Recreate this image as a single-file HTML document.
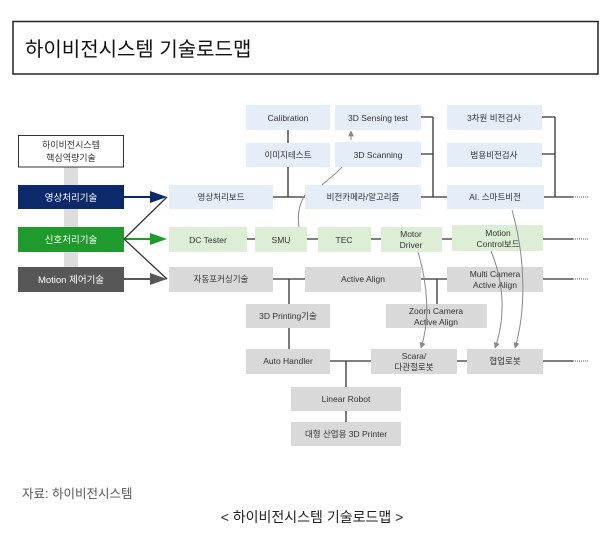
<!DOCTYPE html>
<html><head><meta charset="utf-8"><style>
html,body{margin:0;padding:0;background:#fff;}
svg{display:block;}
text{font-family:"Liberation Sans","Noto Sans CJK KR",sans-serif;}
.b{fill:#e5edf9}.g{fill:#dcefd6}.r{fill:#d9d9d9}
.t{font-size:8.5px;fill:#333;text-anchor:middle;}
.l{stroke:#333;stroke-width:1.3;fill:none}
.c{stroke:#888;stroke-width:1;fill:none}
</style></head><body>
<svg width="610" height="539" viewBox="0 0 610 539">
<defs><marker id="ah" viewBox="0 0 10 10" refX="9" refY="5" markerWidth="6" markerHeight="6" orient="auto"><path d="M0,0L10,5L0,10z" fill="#888"/></marker></defs>
<rect x="13" y="21.5" width="585" height="52.5" fill="#fff" stroke="#222" stroke-width="1.5"/>
<text x="25" y="56" style="font-size:20px;fill:#111">하이비전시스템 기술로드맵</text>

<!-- left column -->
<rect x="64" y="167" width="14" height="100" fill="#ddd"/>
<rect x="18.5" y="135.5" width="105" height="31.5" fill="#fff" stroke="#333" stroke-width="1"/>
<text class="t" x="71" y="148" style="font-size:9px">하이비전시스템</text>
<text class="t" x="71" y="161" style="font-size:9px">핵심역량기술</text>
<rect x="18" y="185" width="106" height="24" fill="#0c2a6b"/>
<text class="t" x="71" y="201" style="fill:#fff;font-size:9.5px">영상처리기술</text>
<rect x="18" y="227" width="106" height="25" fill="#1f9a2c"/>
<text class="t" x="71" y="243" style="fill:#fff;font-size:9.5px">신호처리기술</text>
<rect x="18" y="267" width="106" height="25" fill="#575757"/>
<text class="t" x="71" y="283" style="fill:#fff;font-size:9.5px">Motion 제어기술</text>

<!-- arrows -->
<line x1="124" y1="197" x2="152" y2="197" stroke="#0c2a6b" stroke-width="2"/><path d="M150,191L167,197L150,203z" fill="#0c2a6b"/>
<line x1="124" y1="239" x2="152" y2="239" stroke="#1f9a2c" stroke-width="2"/><path d="M150,233L167,239L150,245z" fill="#1f9a2c"/>
<line x1="124" y1="279" x2="152" y2="279" stroke="#575757" stroke-width="2"/><path d="M150,273L167,279L150,285z" fill="#575757"/>
<line class="l" x1="124" y1="239" x2="167" y2="197"/>
<line class="l" x1="124" y1="239" x2="167" y2="279"/>

<!-- connectors -->
<path class="l" d="M288,130V143M288,167V197M273,197H305"/>
<path class="l" d="M421,117H433M421,154H433M421,197H447M433,117V197"/>
<path class="l" d="M542,117H555M542,154H555M544,197H573M555,117V197"/>
<path class="l" d="M247,239H255M307,239H318M371,239H381M442,239H452M543,239H573"/>
<path class="l" d="M273,279H305M289,279V304M289,328V349M421,279H447M437,279V304M543,279H573"/>
<path class="l" d="M330,361H371M457,361H467M543,361H573M346,361V387M346,411V422"/>
<path d="M573,197H588M573,239H588M573,279H588M573,361H588" stroke="#555" stroke-width="1" stroke-dasharray="1,1"/>

<!-- boxes -->
<rect class="b" x="246" y="105" width="84" height="25"/><text class="t" x="288" y="121">Calibration</text>
<rect class="b" x="246" y="143" width="84" height="24"/><text class="t" x="288" y="158">이미지테스트</text>
<rect class="b" x="169" y="185" width="104" height="24"/><text class="t" x="221" y="200">영상처리보드</text>
<rect class="b" x="335" y="105" width="86" height="25"/><text class="t" x="378" y="121">3D Sensing test</text>
<rect class="b" x="335" y="142" width="86" height="25"/><text class="t" x="378" y="158">3D Scanning</text>
<rect class="b" x="305" y="185" width="116" height="24"/><text class="t" x="363" y="200">비전카메라/알고리즘</text>
<rect class="b" x="447" y="105" width="95" height="25"/><text class="t" x="494" y="121">3차원 비전검사</text>
<rect class="b" x="447" y="143" width="95" height="24"/><text class="t" x="494" y="158">범용비전검사</text>
<rect class="b" x="447" y="185" width="97" height="24"/><text class="t" x="495" y="200">AI. 스마트비전</text>

<rect class="g" x="169" y="227" width="78" height="25"/><text class="t" x="208" y="243">DC Tester</text>
<rect class="g" x="255" y="227" width="52" height="25"/><text class="t" x="281" y="243">SMU</text>
<rect class="g" x="318" y="227" width="53" height="25"/><text class="t" x="344" y="243">TEC</text>
<rect class="g" x="381" y="227" width="61" height="25"/><text class="t" x="411" y="237">Motor</text><text class="t" x="411" y="248">Driver</text>
<rect class="g" x="452" y="225" width="91" height="26"/><text class="t" x="498" y="236">Motion</text><text class="t" x="498" y="247">Control보드</text>

<rect class="r" x="169" y="267" width="104" height="25"/><text class="t" x="221" y="282">자동포커싱기술</text>
<rect class="r" x="305" y="267" width="116" height="25"/><text class="t" x="363" y="282">Active Align</text>
<rect class="r" x="447" y="267" width="96" height="25"/><text class="t" x="495" y="277">Multi Camera</text><text class="t" x="495" y="288">Active Align</text>
<rect class="r" x="246" y="304" width="84" height="24"/><text class="t" x="288" y="319">3D Printing기술</text>
<rect class="r" x="386" y="304" width="101" height="24"/><text class="t" x="436" y="314">Zoom Camera</text><text class="t" x="436" y="325">Active Align</text>
<rect class="r" x="246" y="349" width="84" height="25"/><text class="t" x="288" y="364">Auto Handler</text>
<rect class="r" x="371" y="349" width="86" height="25"/><text class="t" x="414" y="359">Scara/</text><text class="t" x="414" y="370">다관절로봇</text>
<rect class="r" x="467" y="349" width="76" height="25"/><text class="t" x="505" y="364">협업로봇</text>
<rect class="r" x="291" y="387" width="110" height="24"/><text class="t" x="346" y="402">Linear Robot</text>
<rect class="r" x="291" y="422" width="110" height="24"/><text class="t" x="346" y="437">대형 산업용 3D Printer</text>

<!-- curved arrows -->
<path class="c" d="M299,227C297,212 300,203 305,195"/>
<path class="c" d="M322,185C330,178 338,172 342,167"/>
<path class="c" d="M351,140V131" marker-end="url(#ah)"/>
<path class="c" d="M418,252C428,285 430,320 421,348" marker-end="url(#ah)"/>
<path class="c" d="M491,251C505,285 505,320 495,348" marker-end="url(#ah)"/>
<path class="c" d="M512,210C526,260 526,310 515,348" marker-end="url(#ah)"/>

<text x="22" y="498" style="font-size:12.5px;fill:#555">자료: 하이비전시스템</text>
<text x="312" y="522" style="font-size:14px;fill:#222;text-anchor:middle">&lt; 하이비전시스템 기술로드맵 &gt;</text>
</svg>
</body></html>
